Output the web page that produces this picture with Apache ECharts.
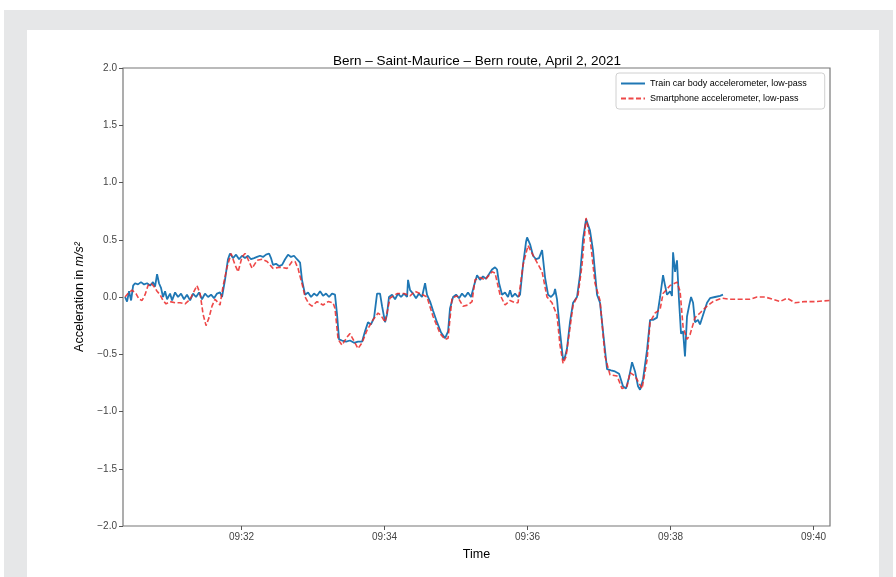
<!DOCTYPE html>
<html>
<head>
<meta charset="utf-8">
<script src="https://cdn.jsdelivr.net/npm/echarts@6/dist/echarts.min.js"></script>
<style>
  html, body { margin: 0; padding: 0; background: #ffffff; }
  #bg { position: absolute; left: 4px; top: 10px; width: 889px; height: 567px; background: #e6e7e8; }
  #panel { position: absolute; left: 27px; top: 30px; width: 852px; height: 547px; background: #ffffff; }
  #chart { position: absolute; left: 0; top: 0; width: 896px; height: 577px; }
</style>
</head>
<body>
<div id="bg"></div>
<div id="panel"></div>
<div id="chart"></div>
<script>
// Time in seconds after 09:30:00
const titleText = 'Bern \u2013 Saint-Maurice \u2013 Bern route, April 2, 2021';
const seriesNames = ['Train car body accelerometer, low-pass', 'Smartphone accelerometer, low-pass'];
const xTickSeconds = [120, 240, 360, 480, 600];
const yTicks = [-2.0, -1.5, -1.0, -0.5, 0.0, 0.5, 1.0, 1.5, 2.0];

const trainTime = [22.2,23.9,25.6,27.3,29.0,30.6,33.1,35.6,38.2,40.7,43.2,45.7,47.4,49.1,50.7,52.4,54.1,55.8,57.5,60.0,61.7,64.2,66.7,69.2,71.7,74.2,76.8,79.3,81.8,84.3,86.8,89.3,91.9,94.4,96.9,99.4,101.9,103.6,106.1,108.6,110.3,112.8,115.4,117.9,120.4,122.9,125.4,127.9,130.5,133.0,135.5,138.0,140.5,143.1,144.7,146.4,148.9,151.4,154.0,156.5,159.0,161.5,164.0,166.5,169.1,170.7,173.3,175.8,178.3,180.8,183.3,185.9,188.4,190.9,193.4,195.9,198.4,200.1,201.8,204.3,207.7,211.0,214.4,217.7,221.1,223.6,226.1,228.6,231.2,233.7,236.2,237.9,240.4,242.1,243.7,246.3,248.8,251.3,253.8,256.3,258.9,259.7,261.4,263.9,266.4,268.9,271.4,274.0,275.6,278.2,280.7,284.0,287.4,290.8,293.3,294.9,297.5,300.0,302.5,305.0,307.5,310.0,312.6,315.1,317.6,320.1,322.6,325.1,327.7,330.2,332.7,334.4,336.1,338.6,341.1,343.6,345.3,347.0,349.5,352.0,353.7,356.2,358.7,359.6,362.1,364.6,367.1,369.6,372.2,374.7,377.2,379.7,382.2,383.1,384.7,387.2,389.8,391.5,393.1,395.6,398.2,401.5,404.0,406.6,409.1,410.7,412.4,414.9,418.3,420.8,423.3,426.7,430.0,433.4,436.8,440.1,442.6,445.2,447.7,450.2,452.7,454.4,456.9,460.3,462.8,465.3,468.6,471.2,473.7,475.4,477.0,479.6,481.2,482.1,483.8,485.4,487.1,488.8,490.5,492.1,493.8,495.5,497.2,498.9,500.5,503.0,504.7,507.2,510.6,513.1,517.3,521.5,524.0];
const trainAcc = [0.0,-0.04,0.05,-0.03,0.10,0.12,0.11,0.13,0.11,0.12,0.10,0.13,0.09,0.20,0.12,0.08,0.0,0.05,-0.02,0.03,-0.03,0.04,0.0,0.03,-0.02,0.02,-0.03,0.03,0.0,0.04,-0.02,0.03,0.0,0.02,-0.01,0.03,0.04,0.0,0.15,0.33,0.38,0.34,0.37,0.33,0.36,0.34,0.36,0.33,0.34,0.35,0.36,0.35,0.37,0.38,0.34,0.28,0.29,0.27,0.28,0.33,0.37,0.35,0.36,0.33,0.30,0.15,0.02,0.04,0.0,0.03,0.01,0.05,0.01,0.03,0.0,0.03,0.02,-0.15,-0.37,-0.38,-0.39,-0.38,-0.40,-0.39,-0.39,-0.30,-0.22,-0.24,-0.18,0.03,0.03,-0.08,-0.22,-0.15,0.0,0.02,-0.02,0.03,0.0,0.03,0.0,0.15,0.06,0.03,-0.01,0.03,0.0,0.12,0.02,-0.04,-0.12,-0.22,-0.31,-0.36,-0.30,-0.10,0.0,0.02,-0.01,0.03,0.0,0.04,0.0,0.10,0.19,0.15,0.18,0.16,0.20,0.24,0.26,0.24,0.12,0.02,0.04,0.0,0.06,0.0,0.03,0.0,0.02,0.28,0.48,0.52,0.46,0.36,0.33,0.34,0.41,0.17,0.02,0.0,0.03,0.07,-0.02,-0.30,-0.55,-0.52,-0.45,-0.22,-0.05,0.0,0.19,0.51,0.68,0.67,0.58,0.41,0.02,-0.05,-0.30,-0.63,-0.64,-0.65,-0.67,-0.78,-0.80,-0.70,-0.57,-0.65,-0.78,-0.81,-0.72,-0.46,-0.20,-0.20,-0.18,0.0,0.19,0.10,0.02,0.05,0.01,0.39,0.22,0.32,-0.03,-0.32,-0.30,-0.52,-0.17,-0.08,0.0,-0.05,-0.22,-0.20,-0.24,-0.16,-0.05,-0.01,0.0,0.01,0.02];

const phoneTime = [22.2,24.7,28.1,31.4,34.0,36.5,39.0,41.5,44.0,46.6,49.1,51.6,54.1,56.6,60.0,64.2,68.4,72.6,76.8,80.1,82.6,85.2,87.7,90.2,92.7,95.2,97.7,100.3,101.9,104.4,107.8,111.2,114.5,117.1,120.4,122.9,125.4,128.8,133.0,137.2,141.4,146.4,152.3,158.2,162.4,164.9,167.4,169.1,171.6,173.3,176.6,179.1,183.3,188.4,192.6,196.8,198.4,201.0,204.3,208.5,211.0,213.6,217.7,221.1,225.3,230.3,234.5,237.0,240.4,244.6,250.5,256.3,261.4,265.6,269.8,275.6,280.7,286.6,290.8,293.3,296.6,300.8,305.8,310.0,313.4,315.9,320.1,324.3,330.2,332.7,336.9,341.1,345.3,349.5,352.0,356.2,360.4,363.8,368.0,372.2,376.3,380.5,384.7,387.2,389.8,392.3,395.6,398.2,402.4,405.7,409.1,412.4,416.6,420.8,425.0,429.2,435.1,439.3,443.5,446.0,450.2,456.1,460.3,462.8,467.0,471.2,473.7,479.6,485.4,488.0,490.5,493.8,496.3,500.5,504.7,510.6,515.6,523.2,529.9,538.3,546.7,552.5,559.3,566.0,571.9,577.7,584.4,592.8,601.2,613.8];
const phoneAcc = [0.0,0.03,0.06,0.03,-0.02,-0.03,0.02,0.10,0.12,0.09,0.05,0.02,-0.03,-0.06,-0.04,-0.05,-0.05,-0.06,-0.02,0.05,0.10,0.03,-0.15,-0.25,-0.18,-0.08,-0.02,-0.05,-0.07,0.09,0.26,0.38,0.28,0.22,0.35,0.38,0.33,0.25,0.32,0.33,0.31,0.25,0.26,0.25,0.31,0.31,0.25,0.18,0.08,0.0,-0.06,-0.08,-0.04,-0.07,-0.04,-0.05,-0.10,-0.37,-0.42,-0.35,-0.32,-0.37,-0.45,-0.40,-0.29,-0.20,-0.14,-0.16,-0.22,-0.01,0.03,0.03,0.01,0.05,0.03,0.0,-0.17,-0.32,-0.37,-0.36,-0.01,0.01,-0.08,-0.07,-0.04,0.15,0.17,0.15,0.22,0.21,0.02,-0.07,-0.03,-0.05,-0.05,0.28,0.45,0.38,0.30,0.22,0.0,-0.05,-0.16,-0.42,-0.58,-0.52,-0.27,-0.07,0.02,0.28,0.69,0.52,0.12,-0.03,-0.52,-0.68,-0.69,-0.80,-0.78,-0.66,-0.69,-0.80,-0.55,-0.22,-0.14,-0.11,0.03,0.10,0.13,0.05,-0.26,-0.37,-0.33,-0.18,-0.14,-0.08,-0.04,-0.01,-0.02,-0.02,-0.02,0.0,0.0,-0.02,-0.04,-0.01,-0.05,-0.04,-0.04,-0.03];

const zip = (xs, ys) => xs.map((x, i) => [x, ys[i]]);
const fmtTime = (s) => { const m = 30 + Math.round(s / 60); return '09:' + String(m).padStart(2, '0'); };
const fmtY = (v) => v.toFixed(1).replace('-', '\u2212');
const FONT = '"Liberation Sans", Arial, sans-serif';

const chart = echarts.init(document.getElementById('chart'), null, { renderer: 'canvas' });
chart.setOption({
  animation: false,
  backgroundColor: 'transparent',
  title: {
    text: titleText,
    left: 472, top: 49, textAlign: 'center',
    textStyle: { fontFamily: FONT, fontSize: 13.5, fontWeight: 'normal', color: '#000' }
  },
  legend: {
    orient: 'vertical',
    left: 616, top: 73,
    padding: [6, 18, 6, 4],
    itemGap: 6,
    itemWidth: 24, itemHeight: 10,
    backgroundColor: 'rgba(255,255,255,0.85)',
    borderColor: '#d0d0d0', borderWidth: 1, borderRadius: 3,
    itemStyle: { opacity: 0 },
    textStyle: { fontFamily: FONT, fontSize: 9, color: '#000' },
    data: seriesNames
  },
  grid: {
    left: 123, right: 66, top: 68, bottom: 51,
    show: true, borderColor: '#777', borderWidth: 1.2, backgroundColor: 'transparent'
  },
  xAxis: {
    type: 'value', min: 20.5, max: 613.8,
    name: 'Time', nameLocation: 'middle', nameGap: 22,
    nameTextStyle: { fontFamily: FONT, fontSize: 12.5, color: '#000' },
    axisLine: { show: false, onZero: false },
    splitLine: { show: false },
    axisTick: { show: true, length: 4, customValues: xTickSeconds, lineStyle: { color: '#555', width: 1 } },
    axisLabel: { customValues: xTickSeconds, formatter: fmtTime, fontFamily: FONT, fontSize: 10, color: '#444', margin: 6 }
  },
  yAxis: {
    type: 'value', min: -2, max: 2, interval: 0.5,
    name: 'Acceleration in {i|m/s²}', nameLocation: 'middle', nameGap: 36, nameRotate: 90,
    nameTextStyle: { fontFamily: FONT, fontSize: 12.5, color: '#000',
      rich: { i: { fontFamily: FONT, fontSize: 12.5, fontStyle: 'italic', color: '#000' } } },
    axisLine: { show: false, onZero: false },
    splitLine: { show: false },
    axisTick: { show: true, length: 4, lineStyle: { color: '#555', width: 1 } },
    axisLabel: { formatter: fmtY, fontFamily: FONT, fontSize: 10, color: '#444', margin: 6 }
  },
  series: [
    {
      name: seriesNames[0], type: 'line', showSymbol: false, symbol: 'none',
      data: zip(trainTime, trainAcc),
      lineStyle: { color: '#1f77b4', width: 1.8 },
      itemStyle: { color: '#1f77b4' }
    },
    {
      name: seriesNames[1], type: 'line', showSymbol: false, symbol: 'none',
      data: zip(phoneTime, phoneAcc),
      lineStyle: { color: 'rgba(235,40,40,0.85)', width: 1.6, type: [5, 2.5] },
      itemStyle: { color: 'rgba(235,40,40,0.85)' }
    }
  ]
});
</script>
</body>
</html>
